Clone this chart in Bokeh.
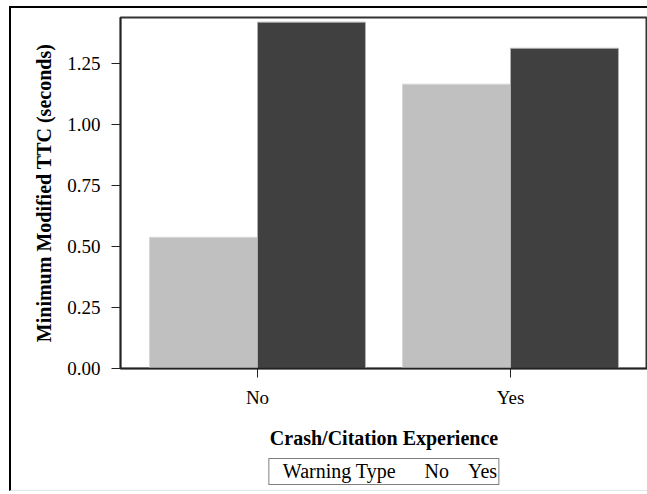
from bokeh.plotting import figure
from bokeh.layouts import column
from bokeh.models import (ColumnDataSource, FactorRange, Range1d, Legend, LegendItem,
                          NumeralTickFormatter)
from bokeh.transform import dodge
from bokeh.embed import file_html
from bokeh.resources import INLINE

# Data
experience = ["No", "Yes"]
warning_no = [0.537, 1.164]
warning_yes = [1.418, 1.311]
y_ticks = [0.0, 0.25, 0.5, 0.75, 1.0, 1.25]
legend_title = "Warning Type"
legend_labels = ["No", "Yes"]

FONT = "Liberation Serif"
LIGHT = "#c0c0c0"
DARK = "#404040"

src = ColumnDataSource(dict(cat=experience, no=warning_no, yes=warning_yes))

# ---- main chart ----
p = figure(
    x_range=FactorRange(*experience, range_padding=0.0415),
    y_range=Range1d(0, 1.437),
    width=636, height=450,
    output_backend="svg", toolbar_location=None,
    min_border_left=109, min_border_right=0, min_border_top=9, min_border_bottom=90,
)

p.vbar(x=dodge("cat", -0.2134, range=p.x_range), top="no", width=0.4268,
       source=src, fill_color=LIGHT, line_color="#d6d6d6", line_width=1)
p.vbar(x=dodge("cat", 0.2134, range=p.x_range), top="yes", width=0.4268,
       source=src, fill_color=DARK, line_color="#b0b0b0", line_width=1)

p.xgrid.visible = False
p.ygrid.visible = False
p.outline_line_color = "#333333"
p.outline_line_width = 2

for ax in (p.xaxis[0], p.yaxis[0]):
    ax.axis_line_color = "#222222"
    ax.axis_line_width = 1.5
    ax.major_tick_line_color = "#222222"
    ax.major_tick_in = 0
    ax.major_tick_out = 9
    ax.minor_tick_line_color = None
    ax.major_label_text_font = FONT
    ax.major_label_text_font_size = "19px"
    ax.major_label_text_color = "black"
    ax.axis_label_text_font = FONT
    ax.axis_label_text_font_size = "20px"
    ax.axis_label_text_font_style = "bold"
    ax.axis_label_text_color = "black"

p.yaxis.ticker = y_ticks
p.yaxis.formatter = NumeralTickFormatter(format="0.00")
p.yaxis.axis_label = "Minimum Modified TTC (seconds)"
p.yaxis.major_label_standoff = 11
p.yaxis.axis_label_standoff = 9
p.xaxis.axis_label = "Crash/Citation Experience"
p.xaxis.major_label_standoff = 9
p.xaxis.axis_label_standoff = 16

# ---- legend strip (separate small figure, frame aligned with the chart's frame) ----
p2 = figure(
    width=636, height=32,
    x_range=Range1d(0, 1), y_range=Range1d(0, 1),
    output_backend="svg", toolbar_location=None,
    x_axis_location=None, y_axis_location=None,
    min_border_left=109, min_border_right=0, min_border_top=0, min_border_bottom=0,
)
p2.xgrid.visible = False
p2.ygrid.visible = False
p2.outline_line_color = None

empty = ColumnDataSource(dict(x=[], top=[]))
l_title = p2.vbar(x="x", top="top", width=0.1, source=empty, fill_alpha=0, line_alpha=0)
l_no = p2.vbar(x="x", top="top", width=0.1, source=empty, fill_color=LIGHT, line_color=LIGHT)
l_yes = p2.vbar(x="x", top="top", width=0.1, source=empty, fill_color=DARK, line_color=DARK)

legend = Legend(
    items=[LegendItem(label=legend_title + "\u00a0\u00a0", renderers=[l_title]),
           LegendItem(label=legend_labels[0], renderers=[l_no]),
           LegendItem(label=legend_labels[1], renderers=[l_yes])],
    orientation="horizontal",
    location="top_center",
    label_text_font=FONT, label_text_font_size="20px", label_text_color="black",
    glyph_width=8, glyph_height=8,
    label_standoff=5, spacing=6,
    padding=1, margin=0,
    border_line_color="black", border_line_width=1,
    background_fill_color="white", background_fill_alpha=1,
)
p2.add_layout(legend, "center")

layout = column(p, p2, spacing=0)
layout.margin = (6, 0, 0, 9)
layout.styles = {"border-left": "2px solid black", "border-top": "2px solid black",
                 "border-bottom": "1px solid #e6e6e6"}

open("out.html", "w").write(file_html(layout, INLINE))
